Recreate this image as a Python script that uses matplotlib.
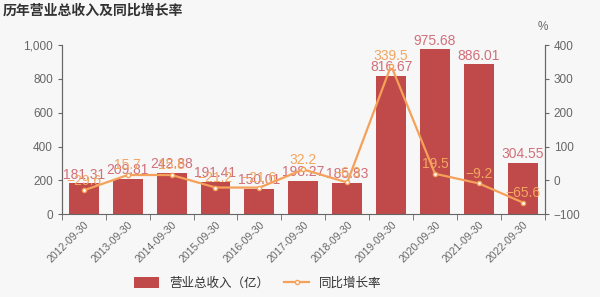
import numpy as np
import matplotlib
matplotlib.use("Agg")
import matplotlib.pyplot as plt

plt.rcParams['font.family'] = ['Liberation Sans', 'Noto Sans CJK SC', 'DejaVu Sans']

dates = ["2012-09-30", "2013-09-30", "2014-09-30", "2015-09-30", "2016-09-30",
         "2017-09-30", "2018-09-30", "2019-09-30", "2020-09-30", "2021-09-30",
         "2022-09-30"]
revenue = [181.31, 209.81, 242.88, 191.41, 150.01, 198.27, 185.83, 816.67,
           975.68, 886.01, 304.55]
growth = [-29.6, 15.7, 15.8, -21.2, -21.6, 32.2, -6.3, 339.5, 19.5, -9.2, -65.6]

bar_color = "#c04a4a"
line_color = "#f5a15a"
axis_color = "#666666"
bg = "#f7f7f7"

fig = plt.figure(figsize=(6, 2.97), dpi=100, facecolor=bg)
ax = fig.add_axes([0.103, 0.279, 0.805, 0.569], facecolor=bg)
ax2 = ax.twinx()

x = np.arange(len(dates))
ax.bar(x, revenue, width=0.68, color=bar_color, zorder=2, label="营业总收入（亿）")
for xi, v in zip(x, revenue):
    ax.text(xi, v + 10, f"{v:.2f}", ha="center", va="bottom", fontsize=10,
            color="#d0707a", zorder=5)

ax2.plot(x, growth, color=line_color, lw=1.6, marker="o", ms=3,
         mfc="white", mec=line_color, zorder=3, label="同比增长率")
for xi, g in zip(x, growth):
    ax2.text(xi, g + 8, f"{g:g}".replace("-", "−"), ha="center", va="bottom",
             fontsize=10, color="#f2a660", zorder=6)

ax.set_xlim(-0.5, len(dates) - 0.5)
ax.set_ylim(0, 1000)
ax.set_yticks([0, 200, 400, 600, 800, 1000])
ax.set_yticklabels(["0", "200", "400", "600", "800", "1,000"])
ax2.set_ylim(-100, 400)
ax2.set_yticks([-100, 0, 100, 200, 300, 400])
ax2.set_yticklabels(["−100", "0", "100", "200", "300", "400"])

ax.set_xticks(x)
ax.set_xticklabels(dates, rotation=45, ha="right", rotation_mode="anchor",
                   fontsize=7.5, color=axis_color)
ax.tick_params(axis="x", length=0, pad=4)
ax.set_xticks(np.arange(-0.5, len(dates), 1), minor=True)
ax.tick_params(axis="x", which="minor", length=4, color=axis_color, direction="out")

for a in (ax, ax2):
    a.spines["top"].set_visible(False)
    for s in ("left", "right", "bottom"):
        a.spines[s].set_color(axis_color)
    a.tick_params(axis="y", labelsize=8.5, colors=axis_color, length=3)
ax2.spines["bottom"].set_visible(False)

fig.text(0.005, 0.965, "历年营业总收入及同比增长率", fontsize=10, fontweight="bold",
         color="#333333", va="center")
fig.text(0.905, 0.9, "%", fontsize=8.5, color=axis_color, ha="center")

h1, l1 = ax.get_legend_handles_labels()
h2, l2 = ax2.get_legend_handles_labels()
fig.legend(h1 + h2, l1 + l2, loc="center", bbox_to_anchor=(0.43, 0.045),
           ncol=2, frameon=False, fontsize=9, handlelength=2,
           handleheight=0.9, columnspacing=1.2, labelcolor="#333333")

fig.savefig("out.png", dpi=100, facecolor=bg)
